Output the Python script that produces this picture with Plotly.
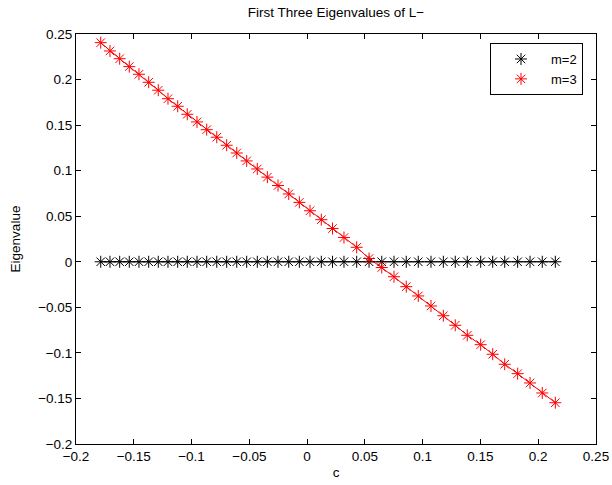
import plotly.graph_objects as go

# Continuation parameter c (shared grid for both branches)
c = [-0.1786, -0.1706, -0.1622, -0.1539, -0.1455, -0.1371, -0.1288, -0.1204,
     -0.1120, -0.1037, -0.0953, -0.0869, -0.0782, -0.0696, -0.0609, -0.0523,
     -0.0431, -0.0344, -0.0252, -0.0159, -0.0067, 0.0025, 0.0123, 0.0220,
     0.0319, 0.0429, 0.0536, 0.0646, 0.0752, 0.0858, 0.0962, 0.1072,
     0.1179, 0.1282, 0.1386, 0.1502, 0.1606, 0.1710, 0.1822, 0.1929,
     0.2035, 0.2148]

# Eigenvalue branch m=2 (stays at zero)
eig_m2 = [0.0] * 42

# Eigenvalue branch m=3
eig_m3 = [0.2405, 0.2314, 0.2229, 0.2142, 0.2058, 0.1970, 0.1883, 0.1790,
          0.1707, 0.1619, 0.1535, 0.1450, 0.1367, 0.1279, 0.1194, 0.1107,
          0.1019, 0.0929, 0.0837, 0.0744, 0.0652, 0.0560, 0.0462, 0.0365,
          0.0266, 0.0159, 0.0036, -0.0063, -0.0164, -0.0273, -0.0375, -0.0485,
          -0.0592, -0.0697, -0.0807, -0.0910, -0.1015, -0.1125, -0.1228, -0.1330,
          -0.1440, -0.1547]

x_ticks = [-0.2, -0.15, -0.1, -0.05, 0, 0.05, 0.1, 0.15, 0.2, 0.25]
x_labels = ["\u22120.2", "\u22120.15", "\u22120.1", "\u22120.05", "0",
            "0.05", "0.1", "0.15", "0.2", "0.25"]
y_ticks = [-0.2, -0.15, -0.1, -0.05, 0, 0.05, 0.1, 0.15, 0.2, 0.25]
y_labels = ["\u22120.2", "\u22120.15", "\u22120.1", "\u22120.05", "0",
            "0.05", "0.1", "0.15", "0.2", "0.25"]

FONT = "Liberation Sans, Arial, Helvetica, sans-serif"
TICK_SIZE = 13.5
TITLE_SIZE = 13.5

fig = go.Figure()

# connecting lines (not in legend)
fig.add_trace(go.Scatter(x=c, y=eig_m2, mode="lines",
                         line=dict(color="black", width=1), showlegend=False,
                         hoverinfo="skip"))
fig.add_trace(go.Scatter(x=c, y=eig_m3, mode="lines",
                         line=dict(color="red", width=1), showlegend=False,
                         hoverinfo="skip"))
# asterisk markers
fig.add_trace(go.Scatter(x=c, y=eig_m2, mode="markers", name="m=2",
                         marker=dict(symbol="asterisk-open", size=10,
                                     color="black",
                                     line=dict(color="black", width=1))))
fig.add_trace(go.Scatter(x=c, y=eig_m3, mode="markers", name="m=3",
                         marker=dict(symbol="asterisk-open", size=10,
                                     color="red",
                                     line=dict(color="red", width=1))))

axis_common = dict(
    showline=True, linecolor="black", linewidth=1, mirror="ticks",
    ticks="inside", ticklen=5, tickcolor="black", tickwidth=1,
    showgrid=False, zeroline=False, automargin=False,
    tickfont=dict(family=FONT, size=TICK_SIZE, color="black"),
)

fig.update_xaxes(range=[-0.2, 0.25], tickvals=x_ticks, ticktext=x_labels,
                 title=dict(text="c", font=dict(family=FONT, size=TITLE_SIZE, color="black"),
                            standoff=4),
                 **axis_common)
fig.update_yaxes(range=[-0.2, 0.25], tickvals=y_ticks, ticktext=y_labels,
                 title=dict(text="Eigenvalue",
                            font=dict(family=FONT, size=TITLE_SIZE, color="black"),
                            standoff=14),
                 **axis_common)

fig.update_layout(
    width=612, height=485,
    margin=dict(l=76, r=16, t=34, b=41),
    paper_bgcolor="white", plot_bgcolor="white",
    font=dict(family=FONT, size=TICK_SIZE, color="black"),
    title=dict(text="First Three Eigenvalues of L\u2212", x=0.549, xanchor="center",
               y=0.975, yanchor="middle",
               font=dict(family=FONT, size=TITLE_SIZE, color="black")),
    legend=dict(x=0.975, xanchor="right", y=0.978, yanchor="top",
                bgcolor="white", bordercolor="black", borderwidth=1,
                font=dict(family=FONT, size=13, color="black"),
                itemwidth=50, tracegroupgap=0),
)

fig.write_html("out.html")
